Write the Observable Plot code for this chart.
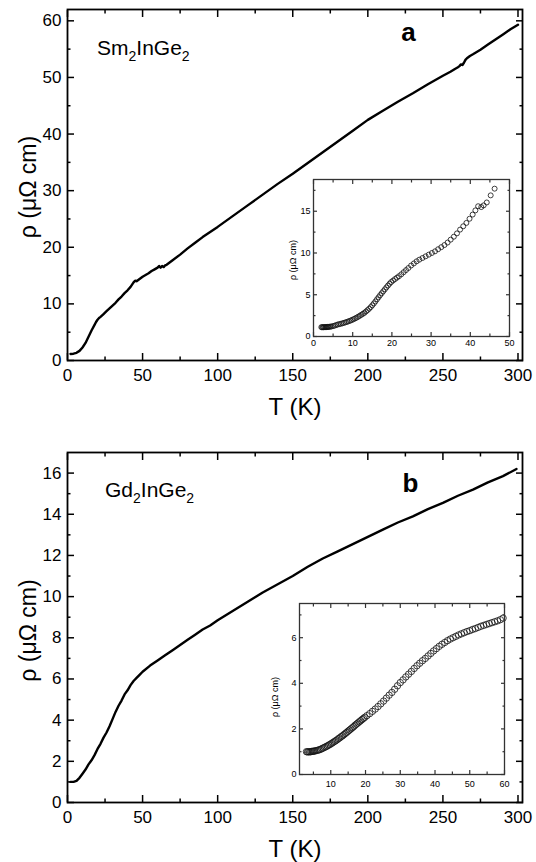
<!DOCTYPE html>
<html><head><meta charset="utf-8">
<script src="https://cdn.jsdelivr.net/npm/d3@7"></script>
<script src="https://cdn.jsdelivr.net/npm/@observablehq/plot@0.6"></script>
<style>
body{margin:0;background:#fff;}
#wrap{position:relative;width:536px;height:862px;overflow:hidden;background:#fff}
</style></head><body><div id="wrap"></div>
<script>
// ---------- data ----------
const mainA_T   = [2,4,6,8,10,12,14,16,18,19,20,21,22,24,26,28,30,32,34,36,38,40,42,44,45,46,48,50,52,54,56,58,60,61,62,63,64,65,66,68,70,75,80,85,90,95,100,110,120,130,140,150,160,170,180,190,200,210,220,230,240,250,255,258,260,261,262,263,264,265,266,268,270,275,280,285,290,295,300];
const mainA_rho = [1.15,1.2,1.35,1.7,2.3,3.1,4.2,5.3,6.3,6.8,7.2,7.5,7.7,8.2,8.7,9.2,9.7,10.2,10.8,11.3,11.9,12.4,13.0,13.8,14.1,14.0,14.4,14.8,15.1,15.4,15.8,16.1,16.4,16.7,16.4,16.7,16.5,16.8,16.9,17.3,17.7,18.7,19.8,20.8,21.8,22.7,23.6,25.5,27.4,29.3,31.2,33.0,34.9,36.8,38.7,40.6,42.5,44.1,45.7,47.2,48.8,50.3,51.0,51.5,51.8,52.0,52.3,52.2,52.6,53.1,53.4,53.8,54.1,54.9,55.8,56.7,57.6,58.5,59.3];

const mainB_T   = [2,4,6,8,10,12,14,16,18,20,22,24,26,28,30,32,34,36,38,40,42,44,46,48,50,55,60,65,70,75,80,85,90,95,100,110,120,130,140,150,160,170,180,190,200,210,220,230,240,250,260,270,280,290,299];
const mainB_rho = [1.0,1.0,1.05,1.2,1.4,1.6,1.85,2.05,2.3,2.6,2.85,3.15,3.4,3.7,4.05,4.4,4.7,4.95,5.25,5.45,5.7,5.9,6.05,6.2,6.35,6.65,6.9,7.15,7.4,7.65,7.9,8.15,8.4,8.6,8.85,9.3,9.75,10.2,10.6,11.0,11.45,11.85,12.2,12.55,12.9,13.25,13.6,13.9,14.25,14.55,14.9,15.2,15.55,15.85,16.2];

const insetA_T   = [2.0,2.2,2.4,2.6,2.8,3.0,3.2,3.4,3.6,3.8,4.0,4.3,4.6,5.0,5.4,5.8,6.2,6.6,7.0,7.4,7.8,8.2,8.6,9.0,9.4,9.8,10.2,10.6,11.0,11.4,11.8,12.2,12.6,13.0,13.4,13.8,14.2,14.6,15.0,15.4,15.8,16.2,16.6,17.0,17.4,17.8,18.2,18.6,19.0,19.4,19.8,20.3,20.8,21.3,21.8,22.4,23.0,23.6,24.2,24.9,25.6,26.3,27.0,27.8,28.6,29.4,30.2,31.0,31.8,32.6,33.4,34.2,35.0,35.8,36.6,37.4,38.2,39.0,39.8,40.6,41.3,42.0,42.8,43.4,44.2,45.2,46.2];
const insetA_rho = [1.12,1.1,1.12,1.1,1.13,1.12,1.14,1.12,1.15,1.14,1.17,1.18,1.2,1.25,1.3,1.37,1.44,1.48,1.53,1.58,1.64,1.7,1.76,1.83,1.9,1.98,2.07,2.16,2.26,2.37,2.48,2.6,2.72,2.84,3.0,3.16,3.33,3.52,3.74,3.96,4.2,4.46,4.7,4.95,5.18,5.42,5.65,5.88,6.1,6.32,6.52,6.7,6.88,7.05,7.22,7.45,7.7,7.95,8.2,8.5,8.75,9.0,9.2,9.4,9.6,9.8,10.0,10.2,10.45,10.7,10.95,11.25,11.6,11.95,12.35,12.8,13.2,13.6,14.1,14.6,15.1,15.6,15.5,15.7,16.05,16.9,17.7];

const insetB_T   = [3.0,3.3,3.6,3.9,4.2,4.5,4.8,5.1,5.4,5.8,6.2,6.6,7.0,7.4,7.8,8.2,8.6,9.0,9.4,9.8,10.2,10.6,11.0,11.4,11.8,12.2,12.6,13.0,13.4,13.8,14.2,14.6,15.0,15.4,15.8,16.2,16.6,17.0,17.4,17.8,18.2,18.6,19.0,19.4,19.8,20.4,21.2,22.0,22.8,23.6,24.4,25.2,26.0,26.8,27.6,28.4,29.2,30.0,30.8,31.6,32.4,33.2,34.0,34.8,35.6,36.4,37.2,38.0,38.8,39.6,40.4,41.2,42.0,42.8,43.6,44.4,45.2,46.0,46.8,47.6,48.4,49.2,50.0,50.8,51.6,52.4,53.2,54.0,54.8,55.6,56.4,57.2,58.0,58.8,59.6];
const insetB_rho = [1.0,0.99,1.0,0.99,1.0,1.01,1.02,1.02,1.03,1.05,1.06,1.08,1.1,1.13,1.16,1.19,1.22,1.25,1.29,1.32,1.36,1.4,1.44,1.48,1.52,1.57,1.61,1.66,1.7,1.75,1.8,1.85,1.9,1.95,2.0,2.05,2.1,2.16,2.21,2.26,2.31,2.36,2.41,2.46,2.51,2.58,2.67,2.77,2.87,2.98,3.1,3.22,3.35,3.48,3.6,3.74,3.89,4.03,4.15,4.28,4.4,4.52,4.65,4.77,4.88,4.99,5.09,5.2,5.31,5.42,5.52,5.62,5.71,5.79,5.87,5.94,6.0,6.06,6.12,6.17,6.22,6.27,6.31,6.36,6.4,6.45,6.5,6.54,6.58,6.62,6.66,6.7,6.74,6.79,6.86];

// ---------- ticks & labels ----------
const mainXTicks = [0,50,100,150,200,250,300];
const mainXMinor = [25,75,125,175,225,275];
const mainAYTicks = [0,10,20,30,40,50,60];
const mainAYMinor = [5,15,25,35,45,55];
const mainBYTicks = [0,2,4,6,8,10,12,14,16];
const mainBYMinor = [1,3,5,7,9,11,13,15];
const insetAXTicks = [0,10,20,30,40,50];
const insetAXMinor = [5,15,25,35,45];
const insetAYTicks = [0,5,10,15];
const insetAYMinor = [2.5,7.5,12.5,17.5];
const insetBXTicks = [10,20,30,40,50,60];
const insetBXMinor = [5,15,25,35,45,55];
const insetBYTicks = [0,2,4,6];
const insetBYMinor = [1,3,5,7];
const xTitle = "T (K)";
const yTitle = "ρ (μΩ cm)";
const panelTags = ["a","b"];
const compounds = [["Sm","InGe"],["Gd","InGe"]];

const FONT = '"Liberation Sans", Arial, Helvetica, sans-serif';
const wrap = document.getElementById("wrap");
const blank = () => "";

function tickMarks(xT, xM, yT, yM, big, small, color, sw) {
  const o = {tickFormat: blank, label: null, stroke: color, strokeWidth: sw};
  return [
    Plot.axisX(xT, {...o, anchor: "bottom", tickSize: -big}),
    Plot.axisX(xM, {...o, anchor: "bottom", tickSize: -small}),
    Plot.axisX(xT, {...o, anchor: "top", tickSize: -big}),
    Plot.axisX(xM, {...o, anchor: "top", tickSize: -small}),
    Plot.axisY(yT, {...o, anchor: "left", tickSize: -big}),
    Plot.axisY(yM, {...o, anchor: "left", tickSize: -small}),
    Plot.axisY(yT, {...o, anchor: "right", tickSize: -big}),
    Plot.axisY(yM, {...o, anchor: "right", tickSize: -small})
  ];
}

function place(el, left, top) {
  el.style.position = "absolute";
  el.style.left = left + "px";
  el.style.top = top + "px";
  wrap.appendChild(el);
  return el;
}

function mainPanel(o) {
  const data = o.T.map((t, i) => ({T: t, rho: o.rho[i]}));
  const common = {
    width: 536, height: 431,
    marginLeft: 67, marginRight: 14, marginTop: o.mt, marginBottom: o.mb,
    style: {fontFamily: FONT, background: "transparent", color: "black"}
  };
  // data layer
  place(Plot.plot({...common,
    x: {domain: [0, 303], axis: null},
    y: {domain: o.yDomain, axis: null},
    marks: [Plot.line(data, {x: "T", y: "rho", stroke: "black", strokeWidth: 2.4})]
  }), 0, o.top);
  // frame, ticks and texts layer
  const p = Plot.plot({...common,
    x: {domain: [0, 303]},
    y: {domain: o.yDomain},
    marks: [
      ...tickMarks(mainXTicks, mainXMinor, o.yT, o.yM, 7, 3.5, "black", 1.5),
      Plot.axisX(mainXTicks, {anchor: "bottom", tickSize: 0, tickPadding: 8, fontSize: 17, label: null}),
      Plot.axisY(o.yT, {anchor: "left", tickSize: 0, tickPadding: 6, fontSize: 17, label: null}),
      Plot.frame({stroke: "black", strokeWidth: 1.8}),
      Plot.text([xTitle], {text: d => d, frameAnchor: "bottom", dy: 47, fontSize: 24, lineAnchor: "middle"}),
      Plot.text([yTitle], {text: d => d, frameAnchor: "left", dx: -39, dy: o.ylDy, rotate: -90, fontSize: 23, lineAnchor: "middle", textAnchor: "middle"}),
      Plot.text([o.tag], {text: d => d, frameAnchor: "top-left", dx: o.tagDx, dy: o.tagDy, fontSize: 26, fontWeight: "bold", textAnchor: "middle", lineAnchor: "middle"})
    ]
  });
  const t = d3.select(p).append("text")
    .attr("x", o.fx).attr("y", o.fy).attr("text-anchor", "start")
    .attr("font-family", FONT).attr("font-size", 21).attr("fill", "black");
  t.append("tspan").text(o.formula[0]);
  t.append("tspan").attr("dy", 6).attr("font-size", 14).text("2");
  t.append("tspan").attr("dy", -6).text(o.formula[1]);
  t.append("tspan").attr("dy", 6).attr("font-size", 14).text("2");
  place(p, 0, o.top);
}

function insetPanel(o) {
  const data = o.T.map((t, i) => ({T: t, rho: o.rho[i]}));
  const common = {
    width: o.w, height: o.h,
    marginLeft: o.ml, marginRight: o.mr, marginTop: o.mt, marginBottom: o.mb,
    style: {fontFamily: FONT, background: "transparent", color: "black"}
  };
  place(Plot.plot({...common,
    x: {domain: o.xDomain, axis: null},
    y: {domain: o.yDomain, axis: null},
    marks: [Plot.dot(data, {x: "T", y: "rho", r: o.r, stroke: "#111", strokeWidth: 0.8, fill: "none"})]
  }), o.left, o.top);
  place(Plot.plot({...common,
    x: {domain: o.xDomain},
    y: {domain: o.yDomain},
    marks: [
      ...tickMarks(o.xTicks, o.xMinor, o.yT, o.yM, 4, 2.5, "#333", 1.2),
      Plot.axisX(o.xTicks, {anchor: "bottom", tickSize: 0, tickPadding: o.xPad, fontSize: 9, label: null}),
      Plot.axisY(o.yT, {anchor: "left", tickSize: 0, tickPadding: 3, fontSize: 9, label: null}),
      Plot.frame({stroke: "#333", strokeWidth: 1.3}),
      Plot.text([yTitle], {text: d => d, frameAnchor: "left", dx: o.ylDx, dy: o.ylDy, rotate: -90, fontSize: 9, lineAnchor: "middle", textAnchor: "middle"})
    ]
  }), o.left, o.top);
}

mainPanel({T: mainA_T, rho: mainA_rho, yDomain: [0, 62], yT: mainAYTicks, yM: mainAYMinor,
  top: 0, mt: 9, mb: 71, ylDy: 2, tag: panelTags[0], tagDx: 341, tagDy: 23,
  formula: compounds[0], fx: 97, fy: 55});
mainPanel({T: mainB_T, rho: mainB_rho, yDomain: [0, 17], yT: mainBYTicks, yM: mainBYMinor,
  top: 431, mt: 21, mb: 60, ylDy: 3, tag: panelTags[1], tagDx: 343, tagDy: 31,
  formula: compounds[1], fx: 105, fy: 66});

insetPanel({T: insetA_T, rho: insetA_rho, xDomain: [0, 50], yDomain: [0, 18.8],
  xTicks: insetAXTicks, xMinor: insetAXMinor, yT: insetAYTicks, yM: insetAYMinor,
  left: 270, top: 170, w: 250, h: 190, ml: 43, mr: 11, mt: 9, mb: 24, r: 2.5, xPad: 3, ylDx: -20, ylDy: 2});
insetPanel({T: insetB_T, rho: insetB_rho, xDomain: [1, 60], yDomain: [0, 7.5],
  xTicks: insetBXTicks, xMinor: insetBXMinor, yT: insetBYTicks, yM: insetBYMinor,
  left: 260, top: 590, w: 255, h: 202, ml: 39, mr: 11, mt: 13, mb: 18, r: 3.2, xPad: 6, ylDx: -24, ylDy: 8});
</script>
</body></html>
